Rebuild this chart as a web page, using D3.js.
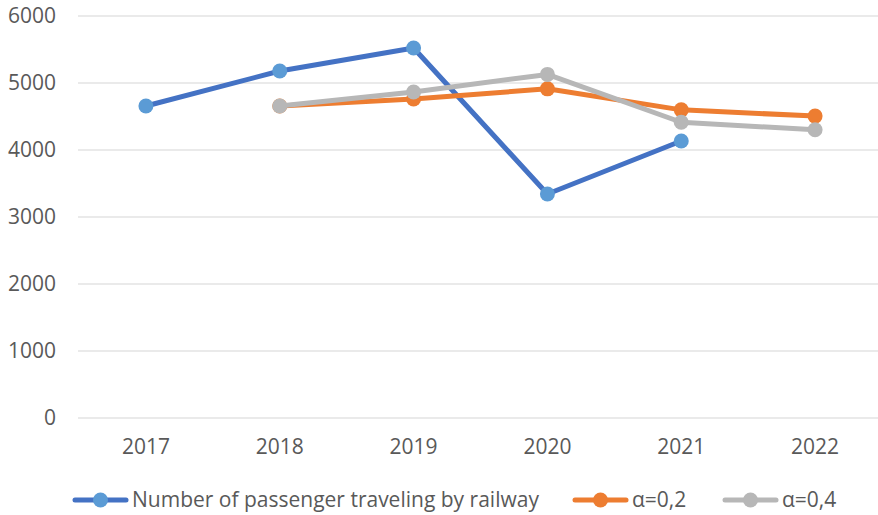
<!DOCTYPE html>
<html>
<head>
<meta charset="utf-8">
<script src="https://cdn.jsdelivr.net/npm/d3@7"></script>
<style>
  html, body { margin: 0; padding: 0; background: #fff; }
  svg { display: block; font-family: "Open Sans", "Liberation Sans", sans-serif; }
</style>
</head>
<body>
<svg id="chart" width="878" height="515"></svg>
<script>
// Passenger numbers by railway and exponential smoothing forecasts
const years = ["2017", "2018", "2019", "2020", "2021", "2022"];
const passengers = [4657, 5179, 5522, 3343, 4134, null];
const alpha02 = [null, 4657, 4761, 4913, 4599, 4506];
const alpha04 = [null, 4657, 4866, 5128, 4414, 4302];
const yTicks = [0, 1000, 2000, 3000, 4000, 5000, 6000];
const seriesNames = ["Number of passenger traveling by railway", "α=0,2", "α=0,4"];

const series = [
  { name: seriesNames[0], values: passengers, line: "#4472C4", marker: "#5B9BD5" },
  { name: seriesNames[1], values: alpha02, line: "#ED7D31", marker: "#ED7D31" },
  { name: seriesNames[2], values: alpha04, line: "#B7B7B7", marker: "#B7B7B7" }
];

const svg = d3.select("#chart");
const margin = { left: 79, right: -4, top: 16, bottom: 97 };
const W = 878, H = 515;
const fontSize = "21px";

const x = d3.scaleBand().domain(years).range([margin.left, W - margin.right]);
const y = d3.scaleLinear().domain([0, 6000]).range([H - margin.bottom, margin.top]);

// horizontal gridlines
svg.append("g")
  .selectAll("line")
  .data(yTicks)
  .join("line")
  .attr("x1", margin.left - 1)
  .attr("x2", W)
  .attr("y1", d => y(d))
  .attr("y2", d => y(d))
  .attr("stroke", "#e3e3e3")
  .attr("stroke-width", 1.3);

// y axis labels
const yAxis = svg.append("g")
  .attr("transform", `translate(${margin.left - 23},0)`)
  .call(d3.axisLeft(y).tickValues(yTicks).tickFormat(d3.format("d")).tickSize(0).tickPadding(0));
yAxis.select(".domain").remove();
yAxis.selectAll("text")
  .attr("fill", "#595959")
  .style("font-size", fontSize)
  .style("font-family", "'Open Sans', sans-serif");

// x axis labels
const xAxis = svg.append("g")
  .attr("transform", `translate(0,${y(0) + 21})`)
  .call(d3.axisBottom(x).tickSize(0).tickPadding(0));
xAxis.select(".domain").remove();
xAxis.selectAll("text")
  .attr("fill", "#595959")
  .style("font-size", fontSize)
  .style("font-family", "'Open Sans', sans-serif");

const cx = d => x(d) + x.bandwidth() / 2;
const line = d3.line()
  .defined(d => d.v != null)
  .x(d => cx(d.year))
  .y(d => y(d.v));

series.forEach(s => {
  const pts = years.map((yr, i) => ({ year: yr, v: s.values[i] }));
  const g = svg.append("g");
  g.append("path")
    .datum(pts)
    .attr("d", line)
    .attr("fill", "none")
    .attr("stroke", s.line)
    .attr("stroke-width", 5)
    .attr("stroke-linejoin", "round")
    .attr("stroke-linecap", "round");
  g.selectAll("circle")
    .data(pts.filter(d => d.v != null))
    .join("circle")
    .attr("cx", d => cx(d.year))
    .attr("cy", d => y(d.v))
    .attr("r", 7.5)
    .attr("fill", s.marker);
});

// legend
const legendX = [73, 573, 723];
const legendY = 500;
series.forEach((s, i) => {
  const g = svg.append("g").attr("transform", `translate(${legendX[i]},${legendY})`);
  g.append("line")
    .attr("x1", 2).attr("x2", 53)
    .attr("stroke", s.line)
    .attr("stroke-width", 5)
    .attr("stroke-linecap", "round");
  g.append("circle")
    .attr("cx", 27.5).attr("r", 7.5)
    .attr("fill", s.marker);
  g.append("text")
    .attr("x", 59)
    .attr("dy", "0.35em")
    .attr("fill", "#595959")
    .style("font-size", fontSize)
    .text(s.name);
});
</script>
</body>
</html>
